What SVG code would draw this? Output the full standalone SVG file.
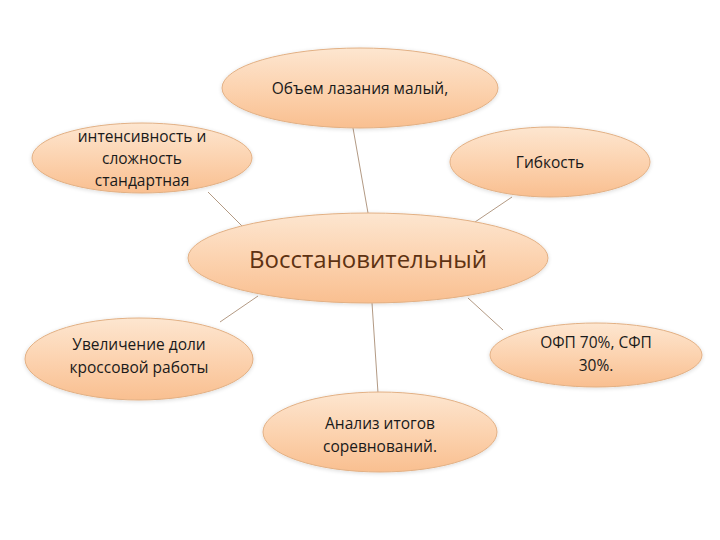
<svg xmlns="http://www.w3.org/2000/svg" width="720" height="540" viewBox="0 0 720 540">
<defs>
<linearGradient id="g" x1="0" y1="0" x2="0" y2="1">
<stop offset="0" stop-color="#fde6d0"/>
<stop offset="0.5" stop-color="#fcd3b0"/>
<stop offset="1" stop-color="#f9bf90"/>
</linearGradient>
<filter id="sh" x="-10%" y="-10%" width="120%" height="130%">
<feGaussianBlur in="SourceAlpha" stdDeviation="2"/>
<feOffset dy="1"/>
<feComponentTransfer><feFuncA type="linear" slope="0.15"/></feComponentTransfer>
<feMerge><feMergeNode/><feMergeNode in="SourceGraphic"/></feMerge>
</filter>
</defs>
<style>
.n{fill:url(#g);stroke:#e2b084;stroke-width:1;filter:url(#sh)}
.t{font-family:"Open Sans","Noto Sans","Liberation Sans",sans-serif;font-size:15.5px;fill:#1a1a1a;text-anchor:middle}
.c{font-family:"Open Sans","Noto Sans","Liberation Sans",sans-serif;font-size:24px;fill:#5e3212;text-anchor:middle}
.e{stroke:#b39a84;stroke-width:1;fill:none}
</style>
<rect width="720" height="540" fill="#ffffff"/>
<g id="connectors">
<line class="e" x1="353" y1="128" x2="368" y2="213"/>
<line class="e" x1="208" y1="192" x2="242" y2="226"/>
<line class="e" x1="512" y1="197" x2="475" y2="222"/>
<line class="e" x1="258" y1="296" x2="220" y2="322"/>
<line class="e" x1="468" y1="298" x2="503" y2="330"/>
<line class="e" x1="372" y1="303" x2="378" y2="393"/>
</g>
<g id="top">
<ellipse class="n" cx="360" cy="88" rx="138" ry="40"/>
<text class="t" x="360" y="94">Объем лазания малый,</text>
</g>
<g id="topleft">
<ellipse class="n" cx="142" cy="158" rx="110" ry="35"/>
<text class="t" x="142" y="142">интенсивность и</text>
<text class="t" x="142" y="164">сложность</text>
<text class="t" x="142" y="186">стандартная</text>
</g>
<g id="topright">
<ellipse class="n" cx="550" cy="162" rx="100" ry="35"/>
<text class="t" x="550" y="168">Гибкость</text>
</g>
<g id="center">
<ellipse class="n" cx="368" cy="258" rx="180" ry="45"/>
<text class="c" x="368" y="268">Восстановительный</text>
</g>
<g id="bottomleft">
<ellipse class="n" cx="139" cy="359" rx="114" ry="41"/>
<text class="t" x="139" y="350">Увеличение доли</text>
<text class="t" x="139" y="373">кроссовой работы</text>
</g>
<g id="bottomright">
<ellipse class="n" cx="596" cy="355" rx="106" ry="32"/>
<text class="t" x="596" y="348">ОФП 70%, СФП</text>
<text class="t" x="596" y="371">30%.</text>
</g>
<g id="bottom">
<ellipse class="n" cx="380" cy="432" rx="117" ry="40"/>
<text class="t" x="380" y="429">Анализ итогов</text>
<text class="t" x="380" y="452">соревнований.</text>
</g>
</svg>
